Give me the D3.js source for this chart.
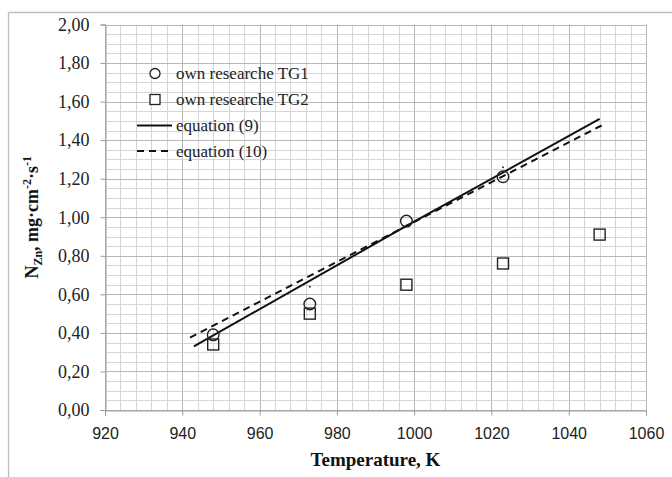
<!DOCTYPE html>
<html><head><meta charset="utf-8">
<script src="https://cdn.jsdelivr.net/npm/d3@7"></script>
<style>html,body{margin:0;padding:0;background:#fff;}svg{display:block;}</style>
</head><body>
<svg id="c" width="672" height="477"></svg>
<script>
const xTicks = [920, 940, 960, 980, 1000, 1020, 1040, 1060];
const yTicks = [0, 0.2, 0.4, 0.6, 0.8, 1.0, 1.2, 1.4, 1.6, 1.8, 2.0];
const tempTG1 = [948, 973, 998, 1023];
const valTG1  = [0.39, 0.55, 0.98, 1.21];
const tempTG2 = [948, 973, 998, 1023, 1048];
const valTG2  = [0.34, 0.50, 0.65, 0.76, 0.91];
const tempEq9  = [943, 998, 1048];
const valEq9   = [0.33, 0.955, 1.51];
const tempEq10 = [942, 998, 1049];
const valEq10  = [0.376, 0.955, 1.481];
const tempMarks = [973, 1023];
const valMarks  = [0.64, 1.26];
const legendLabels = ["own researche TG1", "own researche TG2", "equation (9)", "equation (10)"];

const svg = d3.select("#c");
const L = 105, R = 646, T = 24.5, B = 410;
const x = d3.scaleLinear().domain([920, 1060]).range([L, R]);
const y = d3.scaleLinear().domain([0, 2]).range([B, T]);

// outer frame
svg.append("line").attr("x1", 8.5).attr("x2", 672).attr("y1", 12.5).attr("y2", 12.5).attr("stroke", "#bdbdbd").attr("stroke-width", 1.3);
svg.append("line").attr("x1", 8.5).attr("x2", 8.5).attr("y1", 12.5).attr("y2", 477).attr("stroke", "#bdbdbd").attr("stroke-width", 1.3);

// grid
const g = svg.append("g");
const xMinor = d3.range(920, 1061, 4);
const yMinor = d3.range(0, 2.0001, 0.05);
g.selectAll(".xm").data(xMinor).join("line")
  .attr("x1", d => Math.round(x(d)) + 0.5).attr("x2", d => Math.round(x(d)) + 0.5)
  .attr("y1", T).attr("y2", B).attr("stroke", d => (Math.abs((d - 920) % 20) < 1e-6) ? "#b8b8b8" : "#d6d6d6").attr("stroke-width", 1);
g.selectAll(".ym").data(yMinor).join("line")
  .attr("y1", d => Math.round(y(d)) + 0.5).attr("y2", d => Math.round(y(d)) + 0.5)
  .attr("x1", L).attr("x2", R).attr("stroke", d => (Math.abs(Math.round(d * 100) % 20) < 1e-6) ? "#b8b8b8" : "#d6d6d6").attr("stroke-width", 1);

// axes
const fmtY = d => d3.format(".2f")(d).replace(".", ",");
const ya = svg.append("g").attr("transform", `translate(${L + 0.5},0)`)
  .call(d3.axisLeft(y).tickValues(yTicks).tickFormat(fmtY).tickSize(5).tickPadding(11));
ya.select(".domain").attr("stroke", "#9a9a9a");
ya.selectAll(".tick line").attr("stroke", "#9a9a9a");
ya.selectAll("text").attr("font-family", "Liberation Serif, serif").attr("font-size", 18).attr("fill", "#222");

const xa = svg.append("g").attr("transform", `translate(0,${B + 0.5})`)
  .call(d3.axisBottom(x).tickValues(xTicks).tickFormat(d3.format("d")).tickSize(5).tickPadding(12));
xa.select(".domain").attr("stroke", "#9a9a9a");
xa.selectAll(".tick line").attr("stroke", "#9a9a9a");
xa.selectAll("text").attr("font-family", "Liberation Sans, Arial, sans-serif").attr("font-size", 16).attr("fill", "#222");

// axis titles
svg.append("text").attr("x", (L + R) / 2).attr("y", 466).attr("text-anchor", "middle")
  .attr("font-family", "Liberation Serif, serif").attr("font-weight", "bold").attr("font-size", 19).attr("fill", "#111")
  .text("Temperature, K");

const yt = svg.append("text").attr("transform", `translate(38,${(T + B) / 2}) rotate(-90)`).attr("text-anchor", "middle")
  .attr("font-family", "Liberation Serif, serif").attr("font-weight", "bold").attr("font-size", 18).attr("fill", "#111");
yt.append("tspan").text("N");
yt.append("tspan").attr("font-size", 12).attr("dy", 4).text("Zn");
yt.append("tspan").attr("dy", -4).text(", mg·cm");
yt.append("tspan").attr("font-size", 12).attr("dy", -7).text("-2");
yt.append("tspan").attr("dy", 7).text("·s");
yt.append("tspan").attr("font-size", 12).attr("dy", -7).text("-1");

// lines
const line = d3.line().x(d => x(d[0])).y(d => y(d[1]));
svg.append("path").datum(tempEq9.map((t, i) => [t, valEq9[i]])).attr("d", line)
  .attr("fill", "none").attr("stroke", "#111").attr("stroke-width", 2);
svg.append("path").datum(tempEq10.map((t, i) => [t, valEq10[i]])).attr("d", line)
  .attr("fill", "none").attr("stroke", "#111").attr("stroke-width", 2).attr("stroke-dasharray", "7,5");

// markers
const ms = 11;
svg.selectAll(".sq").data(tempTG2.map((t, i) => [t, valTG2[i]])).join("rect")
  .attr("x", d => x(d[0]) - ms / 2).attr("y", d => y(d[1]) - ms / 2).attr("width", ms).attr("height", ms)
  .attr("fill", "none").attr("stroke", "#222").attr("stroke-width", 1.4);
svg.selectAll(".ci").data(tempTG1.map((t, i) => [t, valTG1[i]])).join("circle")
  .attr("cx", d => x(d[0])).attr("cy", d => y(d[1])).attr("r", 5.8)
  .attr("fill", "none").attr("stroke", "#222").attr("stroke-width", 1.4);
svg.selectAll(".dot").data(tempMarks.map((t, i) => [t, valMarks[i]])).join("circle")
  .attr("cx", d => x(d[0])).attr("cy", d => y(d[1])).attr("r", 1).attr("fill", "#333");

// legend
const lg = svg.append("g");
const rowY = [73.5, 99.5, 125.5, 151];
lg.append("circle").attr("cx", 155).attr("cy", rowY[0]).attr("r", 5).attr("fill", "#fff").attr("stroke", "#222").attr("stroke-width", 1.3);
lg.append("rect").attr("x", 150).attr("y", rowY[1] - 5).attr("width", 10).attr("height", 10).attr("fill", "#fff").attr("stroke", "#222").attr("stroke-width", 1.3);
lg.append("line").attr("x1", 137).attr("x2", 172).attr("y1", rowY[2]).attr("y2", rowY[2]).attr("stroke", "#111").attr("stroke-width", 2);
lg.append("line").attr("x1", 137).attr("x2", 172).attr("y1", rowY[3]).attr("y2", rowY[3]).attr("stroke", "#111").attr("stroke-width", 2).attr("stroke-dasharray", "7,5");
lg.selectAll("text").data(legendLabels).join("text")
  .attr("x", 176).attr("y", (d, i) => rowY[i] + 5.5)
  .attr("font-family", "Liberation Serif, serif").attr("font-size", 17).attr("fill", "#222").text(d => d);
</script>
</body></html>
